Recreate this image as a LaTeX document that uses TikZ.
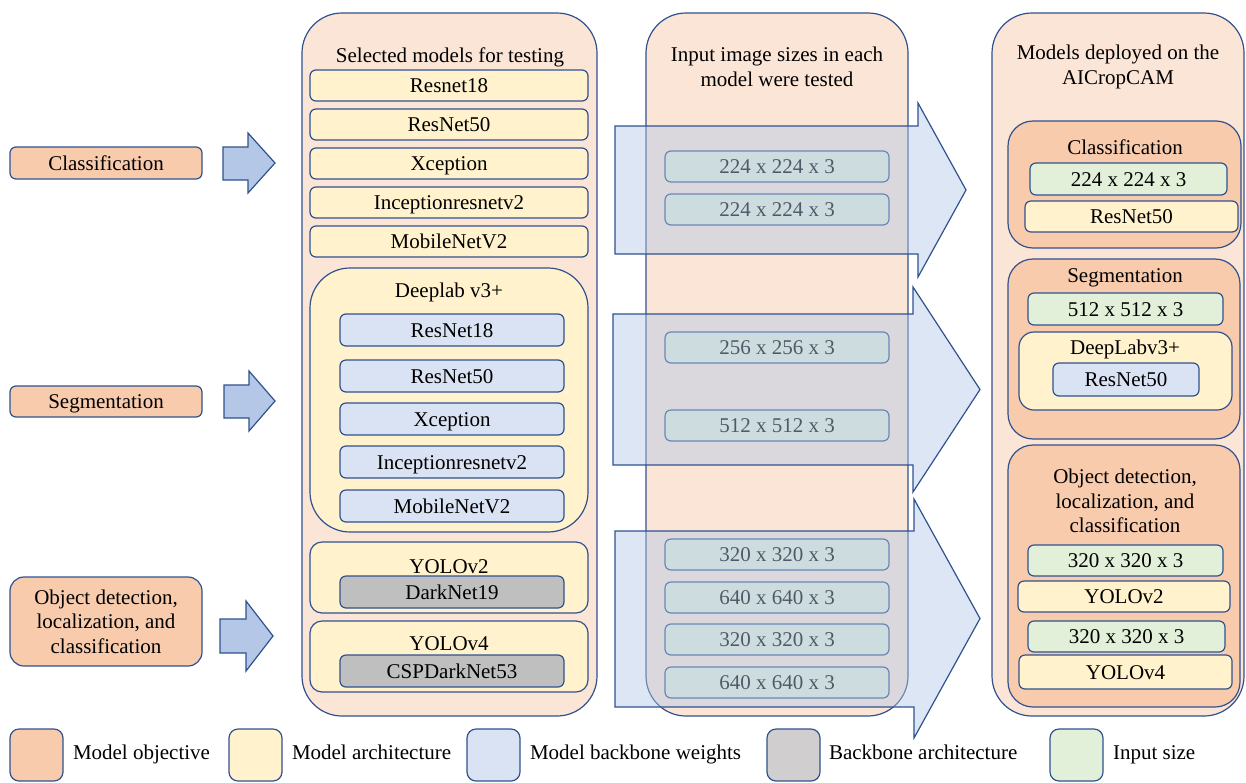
\documentclass[tikz,border=0pt]{standalone}
\usepackage{fontspec}
\setmainfont{Liberation Serif}
\definecolor{edge}{HTML}{2F528F}
\definecolor{objfill}{HTML}{F8CBAD}
\definecolor{panelfill}{HTML}{FBE5D6}
\definecolor{archfill}{HTML}{FFF2CC}
\definecolor{wtfill}{HTML}{DAE3F3}
\definecolor{bbfill}{HTML}{BFBFBF}
\definecolor{legbb}{HTML}{D0CECE}
\definecolor{sizefill}{HTML}{E2F0D9}
\definecolor{arrfill}{HTML}{B4C7E7}
\begin{document}
\begin{tikzpicture}[x=1pt,y=-1pt,
  font=\fontsize{21}{24.5}\selectfont,
  every node/.style={inner sep=0pt, outer sep=0pt, align=center, text height=18pt, text depth=4pt},
  multiline/.style={text height=, text depth=},
  bx/.style={draw=edge, line width=1.2pt, rounded corners=6pt},
  obj/.style={bx, fill=objfill},
  arch/.style={bx, fill=archfill},
  wt/.style={bx, fill=wtfill},
  bb/.style={bx, fill=bbfill},
  isize/.style={bx, fill=sizefill},
  panel/.style={bx, fill=panelfill, rounded corners=40pt},
  legbox/.style={bx, rounded corners=9pt, minimum width=53pt, minimum height=52pt},
  legtext/.style={anchor=west},
  smallarrow/.style={draw=edge, line width=1.2pt, fill=arrfill, line join=miter},
  bigarrow/.style={draw=edge, line width=1.2pt, fill=arrfill, fill opacity=0.45, line join=miter}]
\useasboundingbox (0,0) rectangle (1246,782);

% ---- model objectives ----
\node[obj, minimum width=192pt, minimum height=32pt] (objcls) at (106,163) {Classification};
\node[obj, minimum width=192pt, minimum height=31pt] (objseg) at (106,401.5) {Segmentation};
\node[obj, multiline, minimum width=192pt, minimum height=89pt, rounded corners=14pt] (objdet) at (106,621.5)
  {Object detection,\\localization, and\\classification};

% ---- small block arrows ----
\draw[smallarrow] (223,147) -- (248,147) -- (248,133) -- (275,163) -- (248,193) -- (248,180) -- (223,180) -- cycle;
\draw[smallarrow] (224,385) -- (249,385) -- (249,371) -- (275,401) -- (249,431) -- (249,418) -- (224,418) -- cycle;
\draw[smallarrow] (220,619) -- (246,619) -- (246,601) -- (273,636) -- (246,671) -- (246,653) -- (220,653) -- cycle;

% ---- panel: selected models ----
\node[panel, minimum width=295pt, minimum height=703pt] (pmodels) at (449.5,364.5) {};
\node (tmodels) at (450,55) {Selected models for testing};
\node[arch, minimum width=278pt, minimum height=31pt] (m1) at (449,85.5) {Resnet18};
\node[arch, minimum width=278pt, minimum height=31pt] (m2) at (449,124.5) {ResNet50};
\node[arch, minimum width=278pt, minimum height=31pt] (m3) at (449,163.5) {Xception};
\node[arch, minimum width=278pt, minimum height=31pt] (m4) at (449,202.5) {Inceptionresnetv2};
\node[arch, minimum width=278pt, minimum height=31pt] (m5) at (449,241.5) {MobileNetV2};

\node[arch, rounded corners=40pt, minimum width=278pt, minimum height=264pt] (dl) at (449,400) {};
\node (dlt) at (449,290) {Deeplab v3+};
\node[wt, minimum width=224pt, minimum height=32pt] (dl1) at (452,330) {ResNet18};
\node[wt, minimum width=224pt, minimum height=32pt] (dl2) at (452,376) {ResNet50};
\node[wt, minimum width=224pt, minimum height=32pt] (dl3) at (452,419) {Xception};
\node[wt, minimum width=224pt, minimum height=32pt] (dl4) at (452,462) {Inceptionresnetv2};
\node[wt, minimum width=224pt, minimum height=32pt] (dl5) at (452,506) {MobileNetV2};

\node[arch, rounded corners=12pt, minimum width=278pt, minimum height=71pt] (y2) at (449,577.5) {};
\node (y2t) at (449,566) {YOLOv2};
\node[bb, minimum width=224pt, minimum height=32pt] (y2b) at (452,592) {DarkNet19};
\node[arch, rounded corners=12pt, minimum width=278pt, minimum height=71pt] (y4) at (449,656.5) {};
\node (y4t) at (449,643) {YOLOv4};
\node[bb, minimum width=224pt, minimum height=32pt] (y4b) at (452,671) {CSPDarkNet53};

% ---- panel: input sizes ----
\node[panel, minimum width=262pt, minimum height=703pt] (psizes) at (777,364.5) {};
\node[multiline] (tsizes) at (777,67) {Input image sizes in each\\model were tested};
\node[isize, minimum width=224pt, minimum height=31pt] (s1) at (777,166.5) {224 x 224 x 3};
\node[isize, minimum width=224pt, minimum height=31pt] (s2) at (777,209.5) {224 x 224 x 3};
\node[isize, minimum width=224pt, minimum height=31pt] (s3) at (777,347.5) {256 x 256 x 3};
\node[isize, minimum width=224pt, minimum height=31pt] (s4) at (777,425.5) {512 x 512 x 3};
\node[isize, minimum width=224pt, minimum height=31pt] (s5) at (777,554.5) {320 x 320 x 3};
\node[isize, minimum width=224pt, minimum height=31pt] (s6) at (777,597.5) {640 x 640 x 3};
\node[isize, minimum width=224pt, minimum height=31pt] (s7) at (777,639.5) {320 x 320 x 3};
\node[isize, minimum width=224pt, minimum height=31pt] (s8) at (777,682.5) {640 x 640 x 3};

% ---- panel: deployed models ----
\node[panel, minimum width=252pt, minimum height=703pt] (pdeploy) at (1118,364.5) {};
\node[multiline] (tdeploy) at (1118,67) {Models deployed on the\\AICropCAM};

\node[obj, rounded corners=25pt, minimum width=233pt, minimum height=127pt] (dcls) at (1124.5,184.5) {};
\node (dclst) at (1125,147) {Classification};
\node[isize, minimum width=197pt, minimum height=32pt] (dclss) at (1128.5,179) {224 x 224 x 3};
\node[arch, minimum width=213pt, minimum height=31pt] (dclsm) at (1131.5,216.5) {ResNet50};

\node[obj, rounded corners=25pt, minimum width=232pt, minimum height=180pt] (dseg) at (1124,349) {};
\node (dsegt) at (1125,275) {Segmentation};
\node[isize, minimum width=195pt, minimum height=32pt] (dsegs) at (1125.5,309) {512 x 512 x 3};
\node[arch, rounded corners=15pt, minimum width=213pt, minimum height=78pt] (dsegm) at (1125.5,371) {};
\node (dsegmt) at (1125,347) {DeepLabv3+};
\node[wt, minimum width=146pt, minimum height=33pt] (dsegw) at (1126,379.5) {ResNet50};

\node[obj, rounded corners=25pt, minimum width=232pt, minimum height=262pt] (ddet) at (1124,576) {};
\node[multiline] (ddett) at (1125,501) {Object detection,\\localization, and\\classification};
\node[isize, minimum width=195pt, minimum height=31pt] (ddets1) at (1125.5,560.5) {320 x 320 x 3};
\node[arch, minimum width=212pt, minimum height=31pt] (ddetm1) at (1124,596.5) {YOLOv2};
\node[isize, minimum width=197pt, minimum height=31pt] (ddets2) at (1126.5,636.5) {320 x 320 x 3};
\node[arch, minimum width=213pt, minimum height=34pt] (ddetm2) at (1125.5,672) {YOLOv4};

% ---- large translucent block arrows ----
\draw[bigarrow] (615,126) -- (918,126) -- (918,103) -- (966,190) -- (918,277) -- (918,254) -- (615,254) -- cycle;
\draw[bigarrow] (613,314) -- (913,314) -- (913,287) -- (980,389.5) -- (913,492) -- (913,465) -- (613,465) -- cycle;
\draw[bigarrow] (615,531) -- (914,531) -- (914,499) -- (980,618.5) -- (914,738) -- (914,707) -- (615,707) -- cycle;

% ---- legend ----
\node[legbox, fill=objfill] (l1) at (36.5,755) {};
\node[legtext] (l1t) at (73,752) {Model objective};
\node[legbox, fill=archfill] (l2) at (255.5,755) {};
\node[legtext] (l2t) at (292,752) {Model architecture};
\node[legbox, fill=wtfill] (l3) at (493.5,755) {};
\node[legtext] (l3t) at (530,752) {Model backbone weights};
\node[legbox, fill=legbb] (l4) at (793.5,755) {};
\node[legtext] (l4t) at (829,752) {Backbone architecture};
\node[legbox, fill=sizefill] (l5) at (1076.5,755) {};
\node[legtext] (l5t) at (1113,752) {Input size};
\end{tikzpicture}
\end{document}
